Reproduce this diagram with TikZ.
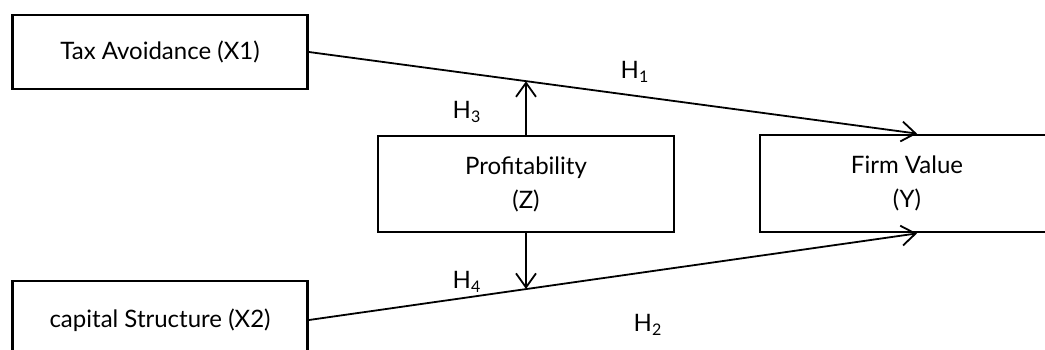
\documentclass[tikz,border=0pt]{standalone}
\usepackage{fontspec}
\setmainfont{Lato}
\usetikzlibrary{arrows.meta}

\begin{document}
\begin{tikzpicture}[x=0.5pt, y=-0.5pt]
        \tikzset{box/.style = {shape=rectangle, draw, line width=1.4pt, align=center, font=\fontsize{12}{17}\selectfont, inner sep=0pt},
                 hyp/.style = {font=\fontsize{12}{14}\selectfont},
                 arr/.style = {line width=0.9pt, -{Straight Barb[length=7pt, width=10pt, line width=0.9pt]}}}

        \clip (0, 0) rectangle (1045, 349);

        \node[box, minimum width=147.5pt, minimum height=37pt] (x1) at (160, 52) {Tax Avoidance (X1)};
        \node[box, minimum width=147.5pt, minimum height=39pt] (x2) at (160, 320) {capital Structure (X2)};
        \node[box, minimum width=148pt, minimum height=48pt] (z) at (526, 184) {Profitability\\(Z)};
        \node[box, minimum width=147pt, minimum height=48.5pt] (y) at (907, 183.5) {Firm Value\\(Y)};

        \node[hyp] (h1) at (635, 72) {H\textsubscript{1}};
        \node[hyp] (h2) at (648, 325) {H\textsubscript{2}};
        \node[hyp] (h3) at (467, 112) {H\textsubscript{3}};
        \node[hyp] (h4) at (467, 282) {H\textsubscript{4}};

        \draw[arr] (x1.east) -- coordinate[pos=0.359] (m1) ([xshift=5pt]y.north);
        \draw[arr] (x2.east) -- coordinate[pos=0.359] (m2) ([xshift=5pt]y.south);

        \draw[arr] (z.north) -- (z.north |- m1);
        \draw[arr] (z.south) -- (z.south |- m2);

    \end{tikzpicture}
\end{document}
